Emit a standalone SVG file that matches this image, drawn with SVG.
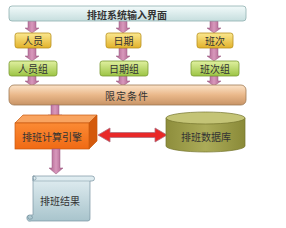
<svg xmlns="http://www.w3.org/2000/svg" width="286" height="228" viewBox="0 0 286 228">
<defs>
<linearGradient id="gTop" x1="0" y1="0" x2="0" y2="1"><stop offset="0" stop-color="#f2fafa"/><stop offset="1" stop-color="#c6dede"/></linearGradient>
<linearGradient id="gYel" x1="0" y1="0" x2="0" y2="1"><stop offset="0" stop-color="#fbe890"/><stop offset="1" stop-color="#e2b22a"/></linearGradient>
<linearGradient id="gGrn" x1="0" y1="0" x2="0" y2="1"><stop offset="0" stop-color="#e0f0a0"/><stop offset="1" stop-color="#9cc444"/></linearGradient>
<linearGradient id="gBrn" x1="0" y1="0" x2="0" y2="1"><stop offset="0" stop-color="#fbe3c8"/><stop offset="0.5" stop-color="#eab88a"/><stop offset="1" stop-color="#c89466"/></linearGradient>
<linearGradient id="gArr" x1="0" y1="0" x2="1" y2="0"><stop offset="0" stop-color="#a85c88"/><stop offset="0.5" stop-color="#d898bc"/><stop offset="1" stop-color="#a85c88"/></linearGradient>
<linearGradient id="gOrg" x1="0" y1="0" x2="0" y2="1"><stop offset="0" stop-color="#fb8a34"/><stop offset="1" stop-color="#f06a14"/></linearGradient>
<linearGradient id="gCyl" x1="0" y1="0" x2="1" y2="0"><stop offset="0" stop-color="#8e8e3c"/><stop offset="0.5" stop-color="#abab58"/><stop offset="1" stop-color="#8a8a38"/></linearGradient>
<linearGradient id="gScr" x1="0" y1="0" x2="0" y2="1"><stop offset="0" stop-color="#e2eef2"/><stop offset="1" stop-color="#a8c4cc"/></linearGradient>
<style>
.t{font-family:"Noto Sans CJK SC","Noto Sans CJK JP",sans-serif;font-size:10px;fill:#333;text-anchor:middle;dominant-baseline:central}
.arr{fill:url(#gArr);stroke:#9a5a80;stroke-width:0.5}
</style>
</defs>

<g id="connectors">
<path class="arr" d="M28,21 H36 V28 H39 L32,33 L25,28 H28 Z"/>
<path class="arr" d="M119,21 H127 V28 H130 L123,33 L116,28 H119 Z"/>
<path class="arr" d="M210,21 H218 V28 H221 L214,33 L207,28 H210 Z"/>
<path class="arr" d="M28,48 H36 V56 H39 L32,61 L25,56 H28 Z"/>
<path class="arr" d="M119,48 H127 V56 H130 L123,61 L116,56 H119 Z"/>
<path class="arr" d="M210,48 H218 V56 H221 L214,61 L207,56 H210 Z"/>
<path class="arr" d="M28,76 H36 V81 H39 L32,86 L25,81 H28 Z"/>
<path class="arr" d="M119,76 H127 V81 H130 L123,86 L116,81 H119 Z"/>
<path class="arr" d="M210,76 H218 V81 H221 L214,86 L207,81 H210 Z"/>
</g>

<g id="input">
<rect x="9" y="6" width="237" height="15" rx="3" fill="url(#gTop)" stroke="#8fb0b0" stroke-width="0.8"/>
<text class="t" x="127" y="14" font-weight="bold" fill="#222">排班系统输入界面</text>
</g>

<g id="person">
<rect x="15" y="33" width="36" height="15" rx="2.5" fill="url(#gYel)" stroke="#b8901e" stroke-width="0.8"/>
<text class="t" x="33" y="40.5">人员</text>
</g>
<g id="date">
<rect x="106" y="33" width="35" height="15" rx="2.5" fill="url(#gYel)" stroke="#b8901e" stroke-width="0.8"/>
<text class="t" x="123.5" y="40.5">日期</text>
</g>
<g id="shift">
<rect x="197" y="33" width="36" height="15" rx="2.5" fill="url(#gYel)" stroke="#b8901e" stroke-width="0.8"/>
<text class="t" x="215" y="40.5">班次</text>
</g>

<g id="personGroup">
<rect x="9" y="61" width="48" height="15" rx="2.5" fill="url(#gGrn)" stroke="#7a9a34" stroke-width="0.8"/>
<text class="t" x="33" y="68.5">人员组</text>
</g>
<g id="dateGroup">
<rect x="100" y="61" width="48" height="15" rx="2.5" fill="url(#gGrn)" stroke="#7a9a34" stroke-width="0.8"/>
<text class="t" x="124" y="68.5">日期组</text>
</g>
<g id="shiftGroup">
<rect x="191" y="61" width="48" height="15" rx="2.5" fill="url(#gGrn)" stroke="#7a9a34" stroke-width="0.8"/>
<text class="t" x="215" y="68.5">班次组</text>
</g>

<g id="constraints">
<rect x="9" y="85" width="237" height="20" rx="5" fill="url(#gBrn)" stroke="#a07a54" stroke-width="0.8"/>
<text class="t" x="127" y="95" letter-spacing="1">限定条件</text>
</g>

<g id="connectors2">
<path class="arr" d="M51,105 H59 V115 H62 L55,121 L48,115 H51 Z"/>
</g>

<g id="engine">
<path d="M15,123 L23,115 H97 L89,123 Z" fill="#f9a460" stroke="#c85a10" stroke-width="0.7"/>
<path d="M89,123 L97,115 V141 L89,149 Z" fill="#d45a0c" stroke="#c85a10" stroke-width="0.7"/>
<rect x="15" y="123" width="74" height="26" fill="url(#gOrg)" stroke="#c85a10" stroke-width="0.7"/>
<text class="t" x="52" y="136">排班计算引擎</text>
</g>

<g id="connectors3">
<path class="arr" d="M52,149 H60 V168 H63 L56,174 L49,168 H52 Z"/>
<path d="M98,135 L110,128 V132.5 H155 V128 L167,135 L155,142 V137.5 H110 V142 Z" fill="#e82828" stroke="#b07080" stroke-width="0.8"/>
</g>

<g id="database">
<path d="M166,118 V146 A39.5,6 0 0 0 245,146 V118 Z" fill="url(#gCyl)" stroke="#74742c" stroke-width="0.7"/>
<ellipse cx="205.5" cy="118" rx="39.5" ry="6" fill="#c4c476" stroke="#74742c" stroke-width="0.7"/>
<text class="t" x="206" y="136">排班数据库</text>
</g>

<g id="result">
<path d="M33,176 H92 A2.5,2.5 0 0 1 92,181 H90 V218 A2.5,2.5 0 0 1 88,221 H31 A3,3 0 0 1 29,215 H33 Z" fill="url(#gScr)" stroke="#7894a0" stroke-width="0.7"/>
<path d="M33,181 V176 A2.5,2.5 0 0 1 36,178.5 A1.5,1.5 0 0 1 33,178.5" fill="none" stroke="#7894a0" stroke-width="0.7"/>
<path d="M33,181 H90" fill="none" stroke="#7894a0" stroke-width="0.5"/>
<path d="M29,215 A2,2 0 0 0 31,219 A1.5,1.5 0 0 0 31,216" fill="none" stroke="#7894a0" stroke-width="0.7"/>
<text class="t" x="60" y="200">排班结果</text>
</g>
</svg>
